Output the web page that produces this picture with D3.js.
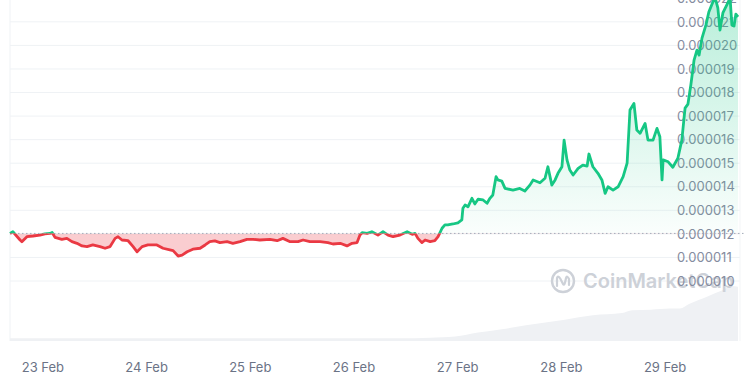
<!DOCTYPE html>
<html>
<head>
<meta charset="utf-8">
<script src="https://cdn.jsdelivr.net/npm/d3@7"></script>
<style>
  body { margin: 0; background: #fff; }
  #chart { width: 750px; height: 375px; }
  text { font-family: Inter, "Noto Sans", sans-serif; }
</style>
</head>
<body>
<div id="chart"></div>
<script>
// price samples, 7 day view (22 Feb 16:30 -> 29 Feb 17:00, 2024)
const times = [
  "02-22 16:30", "02-22 17:10", "02-22 18:50", "02-22 19:15", "02-22 20:25", "02-22 21:50", "02-22 23:25",
  "02-23 00:35", "02-23 01:45", "02-23 02:15", "02-23 02:55", "02-23 04:30", "02-23 05:40", "02-23 06:50",
  "02-23 08:00", "02-23 09:10", "02-23 10:20", "02-23 11:40", "02-23 13:20", "02-23 14:30", "02-23 15:40",
  "02-23 16:50", "02-23 17:30", "02-23 18:25", "02-23 19:50", "02-23 21:00", "02-23 21:55", "02-23 23:05",
  "02-24 00:25", "02-24 02:30", "02-24 03:55", "02-24 05:30", "02-24 06:15", "02-24 07:25", "02-24 08:20",
  "02-24 09:30", "02-24 10:50", "02-24 12:30", "02-24 13:40", "02-24 14:45", "02-24 15:55", "02-24 17:05",
  "02-24 18:45", "02-24 20:05", "02-24 21:45", "02-24 23:20",
  "02-25 00:45", "02-25 02:20", "02-25 04:40", "02-25 06:20", "02-25 07:40", "02-25 09:20", "02-25 11:10",
  "02-25 12:20", "02-25 13:55", "02-25 16:15", "02-25 18:05", "02-25 19:15", "02-25 20:55", "02-25 22:30",
  "02-25 23:40",
  "02-26 00:50", "02-26 01:30", "02-26 02:00", "02-26 03:10", "02-26 04:15", "02-26 05:40", "02-26 06:50",
  "02-26 08:00", "02-26 09:10", "02-26 10:45", "02-26 12:25", "02-26 13:35", "02-26 14:15", "02-26 14:55",
  "02-26 15:50", "02-26 16:35", "02-26 17:45", "02-26 18:50", "02-26 19:35", "02-26 20:30", "02-26 21:10",
  "02-26 21:50", "02-26 23:00",
  "02-27 00:10", "02-27 01:05", "02-27 01:20", "02-27 01:50", "02-27 02:30", "02-27 03:25", "02-27 04:05",
  "02-27 04:50", "02-27 06:00", "02-27 06:55", "02-27 07:35", "02-27 08:15", "02-27 09:00", "02-27 09:25",
  "02-27 10:20", "02-27 11:05", "02-27 12:55", "02-27 14:30", "02-27 15:40", "02-27 16:50", "02-27 17:35",
  "02-27 19:10", "02-27 20:20", "02-27 21:00", "02-27 21:55", "02-27 22:40", "02-27 23:20",
  "02-28 00:15", "02-28 00:45", "02-28 01:25", "02-28 02:05", "02-28 02:50", "02-28 04:00", "02-28 05:05",
  "02-28 06:05", "02-28 06:30", "02-28 07:25", "02-28 08:35", "02-28 09:30", "02-28 10:15", "02-28 10:55",
  "02-28 12:05", "02-28 13:15", "02-28 14:25", "02-28 15:20", "02-28 16:00", "02-28 16:55", "02-28 17:35",
  "02-28 18:20", "02-28 19:30", "02-28 20:10", "02-28 21:20", "02-28 22:15", "02-28 22:55", "02-28 23:25",
  "02-28 23:40",
  "02-29 00:50", "02-29 01:55", "02-29 03:05", "02-29 04:00", "02-29 04:45", "02-29 05:25", "02-29 06:05",
  "02-29 06:50", "02-29 07:30", "02-29 08:00", "02-29 08:40", "02-29 09:35", "02-29 10:15", "02-29 11:00",
  "02-29 11:40", "02-29 12:20", "02-29 12:50", "02-29 13:30", "02-29 14:25", "02-29 15:10", "02-29 15:35",
  "02-29 16:05", "02-29 16:30", "02-29 17:00"
];

const prices = [
  12.02e-6, 12.09e-6, 11.74e-6, 11.67e-6, 11.88e-6, 11.91e-6, 11.95e-6,
  12.00e-6, 12.02e-6, 12.06e-6, 11.85e-6, 11.77e-6, 11.81e-6, 11.67e-6,
  11.60e-6, 11.49e-6, 11.46e-6, 11.53e-6, 11.46e-6, 11.39e-6, 11.46e-6,
  11.81e-6, 11.88e-6, 11.74e-6, 11.71e-6, 11.46e-6, 11.24e-6, 11.46e-6,
  11.53e-6, 11.53e-6, 11.39e-6, 11.32e-6, 11.29e-6, 11.06e-6, 11.10e-6,
  11.24e-6, 11.35e-6, 11.39e-6, 11.53e-6, 11.67e-6, 11.70e-6, 11.63e-6,
  11.67e-6, 11.60e-6, 11.67e-6, 11.77e-6,
  11.77e-6, 11.74e-6, 11.77e-6, 11.71e-6, 11.81e-6, 11.67e-6, 11.67e-6,
  11.74e-6, 11.67e-6, 11.67e-6, 11.63e-6, 11.57e-6, 11.60e-6, 11.49e-6,
  11.60e-6,
  11.63e-6, 11.95e-6, 12.05e-6, 12.02e-6, 12.09e-6, 11.95e-6, 12.09e-6,
  11.95e-6, 11.88e-6, 11.95e-6, 12.09e-6, 11.98e-6, 12.02e-6, 11.81e-6,
  11.63e-6, 11.74e-6, 11.67e-6, 11.71e-6, 11.88e-6, 12.24e-6, 12.38e-6,
  12.38e-6, 12.42e-6,
  12.47e-6, 12.59e-6, 13.09e-6, 13.23e-6, 13.15e-6, 13.51e-6, 13.27e-6,
  13.47e-6, 13.44e-6, 13.30e-6, 13.51e-6, 13.65e-6, 14.43e-6, 14.29e-6,
  14.24e-6, 13.93e-6, 13.86e-6, 13.93e-6, 13.82e-6, 14.07e-6, 14.29e-6,
  14.17e-6, 14.36e-6, 14.85e-6, 14.07e-6, 14.29e-6, 14.57e-6,
  14.85e-6, 15.98e-6, 15.14e-6, 14.71e-6, 14.50e-6, 14.78e-6, 14.92e-6,
  14.88e-6, 15.39e-6, 14.85e-6, 14.57e-6, 14.29e-6, 13.72e-6, 14.00e-6,
  13.86e-6, 14.00e-6, 14.43e-6, 15.00e-6, 17.26e-6, 17.54e-6, 16.41e-6,
  16.27e-6, 16.69e-6, 15.98e-6, 15.98e-6, 16.48e-6, 16.12e-6, 14.29e-6,
  15.14e-6,
  15.06e-6, 14.83e-6, 15.21e-6, 15.98e-6, 17.34e-6, 17.51e-6, 18.32e-6,
  19.38e-6, 19.80e-6, 19.59e-6, 20.31e-6, 20.87e-6, 21.42e-6, 21.76e-6,
  22.05e-6, 21.59e-6, 20.65e-6, 21.38e-6, 21.72e-6, 22.01e-6, 20.87e-6,
  20.82e-6, 21.33e-6, 21.21e-6
];

// volume panel (relative units)
const volTimes = [
  "02-22 16:30", "02-23 13:20", "02-24 12:30", "02-25 11:35", "02-26 10:45", "02-26 17:45", "02-26 23:30",
  "02-27 04:50", "02-27 10:20", "02-27 15:55", "02-28 00:55", "02-28 07:25", "02-28 14:10", "02-28 16:30",
  "02-28 20:50", "02-29 01:15", "02-29 03:35", "02-29 05:40", "02-29 10:05", "02-29 13:15", "02-29 15:35",
  "02-29 17:00"
];
const volumes = [5, 5, 5, 5, 5, 6, 8, 15, 21, 28, 38, 46, 50, 55, 56, 58, 58, 66, 80, 90, 98, 97];

const yTicks = [10e-6, 11e-6, 12e-6, 13e-6, 14e-6, 15e-6, 16e-6, 17e-6, 18e-6, 19e-6, 20e-6, 21e-6, 22e-6];
const dayTicks = ["2024-02-23", "2024-02-24", "2024-02-25", "2024-02-26", "2024-02-27", "2024-02-28", "2024-02-29"];

const parse = d3.timeParse("%Y-%m-%d %H:%M");
const points = times.map((t, i) => ({ date: parse("2024-" + t), price: prices[i] }));
const volPoints = volTimes.map((t, i) => ({ date: parse("2024-" + t), vol: volumes[i] }));

const width = 750, height = 375;
const green = "#16c784", red = "#ea3943";

const svg = d3.select("#chart").append("svg")
  .attr("width", width)
  .attr("height", height);

const x = d3.scaleTime().domain(d3.extent(points, d => d.date)).range([10, 738]);
const y = d3.scaleLinear().domain([10e-6, 22e-6]).range([281, -1.7]);
const yVol = d3.scaleLinear().domain([0, 100]).range([341, 285]);
const base = prices[0];
const yBase = y(base);

// defs: gradient + clips above / below the opening price
const defs = svg.append("defs");
const grad = defs.append("linearGradient")
  .attr("id", "greenFill")
  .attr("gradientUnits", "userSpaceOnUse")
  .attr("x1", 0).attr("x2", 0)
  .attr("y1", y(22e-6)).attr("y2", yBase);
grad.append("stop").attr("offset", 0).attr("stop-color", green).attr("stop-opacity", 0.3);
grad.append("stop").attr("offset", 1).attr("stop-color", green).attr("stop-opacity", 0.02);

defs.append("clipPath").attr("id", "above")
  .append("rect").attr("x", 0).attr("y", -20).attr("width", width).attr("height", yBase + 20);
defs.append("clipPath").attr("id", "below")
  .append("rect").attr("x", 0).attr("y", yBase).attr("width", width).attr("height", height);

// grid
svg.append("g")
  .selectAll("line")
  .data(yTicks)
  .join("line")
  .attr("x1", 10).attr("x2", 740)
  .attr("y1", d => y(d)).attr("y2", d => y(d))
  .attr("stroke", "#eff2f5");

svg.append("line")
  .attr("x1", 10).attr("x2", 10).attr("y1", 0).attr("y2", 341)
  .attr("stroke", "#eff2f5");
svg.append("line")
  .attr("x1", 740).attr("x2", 740).attr("y1", 0).attr("y2", 341)
  .attr("stroke", "#f3f5f7");

// volume
svg.append("path")
  .datum(volPoints)
  .attr("fill", "#eff1f4")
  .attr("d", d3.area()
    .x(d => x(d.date))
    .y0(yVol(0))
    .y1(d => yVol(d.vol))
    .curve(d3.curveMonotoneX));

// watermark
const wm = svg.append("g").attr("transform", "translate(563,281)").attr("fill", "none");
wm.append("circle").attr("r", 11).attr("stroke", "#cdd1d8").attr("stroke-width", 2.4);
wm.append("path")
  .attr("d", "M-6,5 L-6,-3 Q-5,-6 -2.5,-2 L0,3 Q1.5,6 3,-3 Q4,-6 6,-2 L6,4")
  .attr("stroke", "#cdd1d8").attr("stroke-width", 2.2).attr("stroke-linecap", "round");
wm.append("text")
  .attr("x", 20).attr("dy", "0.36em")
  .attr("fill", "#cdd1d8")
  .attr("font-size", 20)
  .attr("font-weight", 600)
  .text("CoinMarketCap");

// y labels
const yAxis = svg.append("g")
  .attr("transform", "translate(677,0)")
  .call(d3.axisRight(y).tickValues(yTicks).tickSize(0).tickPadding(0).tickFormat(d3.format(".6f")));
yAxis.select(".domain").remove();
yAxis.selectAll("text").attr("fill", "#858ca0").attr("font-size", 13).attr("font-family", "Inter, sans-serif");

// fills
const area = d3.area().x(d => x(d.date)).y0(yBase).y1(d => y(d.price));
svg.append("path").datum(points)
  .attr("clip-path", "url(#above)")
  .attr("fill", "url(#greenFill)")
  .attr("d", area);
svg.append("path").datum(points)
  .attr("clip-path", "url(#below)")
  .attr("fill", red).attr("fill-opacity", 0.25)
  .attr("d", area);

// dotted opening price line
svg.append("line")
  .attr("x1", 10).attr("x2", 746)
  .attr("y1", yBase).attr("y2", yBase)
  .attr("stroke", "#a3abb9")
  .attr("stroke-dasharray", "1.5,2.5");

// price line, green above / red below
const line = d3.line().x(d => x(d.date)).y(d => y(d.price));
svg.append("path").datum(points)
  .attr("clip-path", "url(#above)")
  .attr("fill", "none").attr("stroke", green).attr("stroke-width", 2.8)
  .attr("stroke-linejoin", "round")
  .attr("d", line);
svg.append("path").datum(points)
  .attr("clip-path", "url(#below)")
  .attr("fill", "none").attr("stroke", red).attr("stroke-width", 2.8)
  .attr("stroke-linejoin", "round")
  .attr("d", line);

// x labels
const dayParse = d3.timeParse("%Y-%m-%d");
const xAxis = svg.append("g")
  .attr("transform", "translate(0,359)")
  .call(d3.axisBottom(x).tickValues(dayTicks.map(dayParse)).tickSize(0).tickPadding(4)
    .tickFormat(d3.timeFormat("%-d %b")));
xAxis.select(".domain").remove();
xAxis.selectAll("text").attr("fill", "#6b7386").attr("font-size", 13).attr("font-family", "Inter, sans-serif");
</script>
</body>
</html>
